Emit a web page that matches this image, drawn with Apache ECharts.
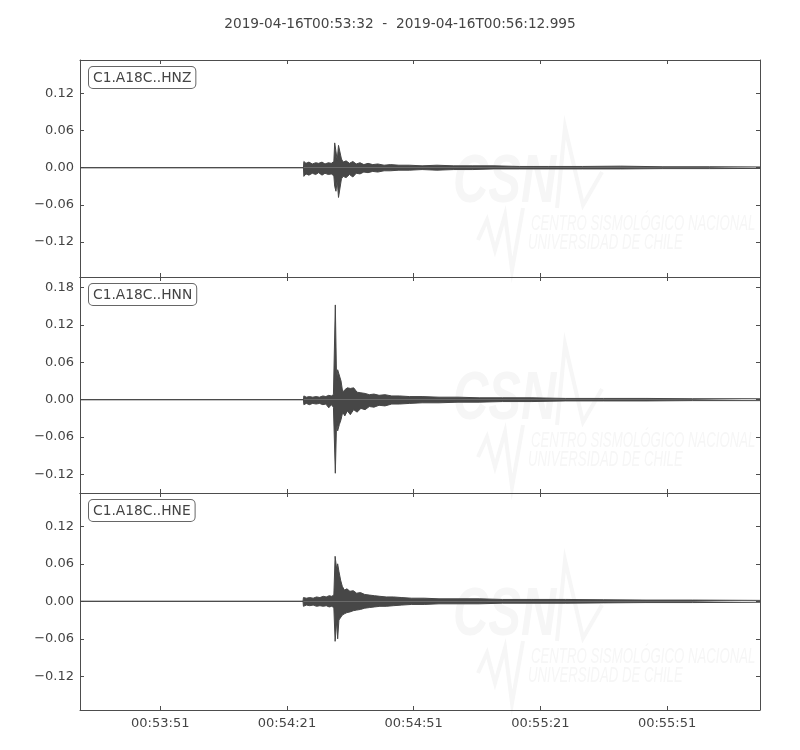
<!DOCTYPE html>
<html>
<head>
<meta charset="utf-8">
<script src="https://cdn.jsdelivr.net/npm/echarts@6/dist/echarts.min.js"></script>
<style>
  html, body { margin: 0; padding: 0; background: #fff; }
  #chart { width: 800px; height: 750px; }
</style>
</head>
<body>
<div id="chart"></div>
<script>
// seconds after 00:53:32, trace ends 00:56:12.995
var startSec = 3212;
var span = 160.995;
var titleText = '2019-04-16T00:53:32  -  2019-04-16T00:56:12.995';
var channels = ['C1.A18C..HNZ', 'C1.A18C..HNN', 'C1.A18C..HNE'];

var xTicks = [19, 49, 79, 109, 139];
var yTicksZ = [-0.12, -0.06, 0, 0.06, 0.12];
var yTicksN = [-0.12, -0.06, 0, 0.06, 0.12, 0.18];
var yTicksE = [-0.12, -0.06, 0, 0.06, 0.12];
var yRangeZ = [-0.1763, 0.1737];
var yRangeN = [-0.1497, 0.1968];
var yRangeE = [-0.1739, 0.1733];

// envelope: time, upper, lower
var hnzT = [0, 52.9, 53.0, 53.5, 54.2, 55.0, 55.8, 56.5, 57.3, 58.0, 58.8, 59.5, 60.1, 60.3, 60.6, 60.9, 61.2, 61.5, 61.9, 62.3, 63.0, 63.8, 64.6, 65.4, 66.3, 67.2, 68.2, 69.3, 70.5, 72.0, 73.5, 75.5, 78.0, 81.0, 84.5, 88.5, 93.0, 98.0, 104, 111, 119, 128, 138, 149, 161];
var hnzHi = [0, 0, 0.010, 0.007, 0.009, 0.006, 0.008, 0.007, 0.009, 0.006, 0.008, 0.007, 0.010, 0.040, 0.039, 0.012, 0.036, 0.034, 0.014, 0.009, 0.011, 0.007, 0.010, 0.006, 0.008, 0.005, 0.007, 0.005, 0.006, 0.004, 0.005, 0.004, 0.004, 0.003, 0.004, 0.003, 0.003, 0.003, 0.002, 0.002, 0.002, 0.0025, 0.0015, 0.0015, 0.0012];
var hnzLo = [0, 0, -0.014, -0.010, -0.012, -0.009, -0.011, -0.008, -0.012, -0.009, -0.011, -0.010, -0.013, -0.030, -0.038, -0.020, -0.048, -0.046, -0.018, -0.014, -0.016, -0.011, -0.015, -0.009, -0.010, -0.007, -0.008, -0.006, -0.007, -0.005, -0.005, -0.004, -0.004, -0.003, -0.004, -0.003, -0.003, -0.002, -0.002, -0.002, -0.002, -0.002, -0.0015, -0.0015, -0.0012];

var hnnT = [0, 52.9, 53.0, 53.6, 54.3, 55.1, 55.9, 56.7, 57.5, 58.2, 58.9, 59.5, 60.0, 60.3, 60.45, 60.6, 60.75, 61.0, 61.4, 61.8, 62.2, 62.7, 63.3, 64.0, 64.8, 65.6, 66.5, 67.5, 68.5, 69.6, 70.8, 72.2, 73.8, 75.6, 78.0, 81.0, 85.0, 89.5, 94.5, 100, 107, 115, 124, 134, 145, 161];
var hnnHi = [0, 0, 0.006, 0.004, 0.005, 0.004, 0.005, 0.004, 0.006, 0.005, 0.007, 0.006, 0.008, 0.010, 0.152, 0.152, 0.030, 0.048, 0.046, 0.030, 0.012, 0.016, 0.019, 0.018, 0.019, 0.012, 0.011, 0.010, 0.008, 0.009, 0.007, 0.008, 0.006, 0.006, 0.005, 0.005, 0.004, 0.004, 0.003, 0.003, 0.003, 0.002, 0.002, 0.002, 0.0015, 0.0015];
var hnnLo = [0, 0, -0.008, -0.006, -0.008, -0.006, -0.007, -0.006, -0.008, -0.007, -0.013, -0.008, -0.012, -0.014, -0.118, -0.118, -0.035, -0.050, -0.040, -0.032, -0.020, -0.026, -0.018, -0.024, -0.016, -0.020, -0.014, -0.016, -0.011, -0.012, -0.009, -0.010, -0.007, -0.007, -0.006, -0.005, -0.005, -0.004, -0.004, -0.003, -0.003, -0.002, -0.002, -0.002, -0.0015, -0.0015];

var hneT = [0, 52.8, 52.9, 53.6, 54.4, 55.2, 56.0, 56.8, 57.6, 58.3, 59.0, 59.6, 60.1, 60.4, 60.6, 60.8, 61.0, 61.3, 61.7, 62.1, 62.6, 63.2, 63.9, 64.7, 65.5, 66.4, 67.4, 68.5, 69.7, 71.0, 72.5, 74.2, 76.2, 78.5, 81.5, 85.0, 89.5, 94.5, 100, 107, 115, 124, 134, 145, 161];
var hneHi = [0, 0, 0.006, 0.005, 0.006, 0.005, 0.007, 0.006, 0.008, 0.007, 0.009, 0.008, 0.010, 0.072, 0.070, 0.050, 0.060, 0.048, 0.034, 0.024, 0.018, 0.020, 0.016, 0.017, 0.013, 0.014, 0.011, 0.010, 0.009, 0.008, 0.007, 0.007, 0.006, 0.005, 0.005, 0.004, 0.004, 0.004, 0.003, 0.003, 0.003, 0.0025, 0.002, 0.002, 0.0015];
var hneLo = [0, 0, -0.008, -0.006, -0.007, -0.006, -0.008, -0.007, -0.008, -0.007, -0.009, -0.008, -0.010, -0.064, -0.062, -0.030, -0.060, -0.030, -0.028, -0.022, -0.020, -0.018, -0.017, -0.015, -0.014, -0.013, -0.011, -0.010, -0.009, -0.008, -0.008, -0.007, -0.006, -0.005, -0.005, -0.004, -0.004, -0.004, -0.003, -0.003, -0.003, -0.0025, -0.002, -0.002, -0.0015];

var tops = [60, 277, 493];
var heights = [217, 216, 217];
var frameColor = '#4d4d4d';
var textColor = '#444';
var traceColor = '#474747';
var font = 'DejaVu Sans';

function pad(n) {
  return (n < 10 ? '0' : '') + n;
}

function timeLabel(v) {
  var s = Math.round(startSec + v);
  return pad(Math.floor(s / 3600)) + ':' + pad(Math.floor(s / 60) % 60) + ':' + pad(s % 60);
}

function numLabel(v) {
  return v.toFixed(2).replace('-', '\u2212');
}

function pairs(t, v) {
  return t.map(function(x, i) { return [x, v[i]]; });
}

function bandSeries(idx, t, hi, lo) {
  var base = {
    type: 'line',
    xAxisIndex: idx * 2,
    yAxisIndex: idx * 2,
    showSymbol: false,
    symbol: 'none',
    silent: true,
    lineStyle: { color: traceColor, width: 1 },
    areaStyle: { color: traceColor, opacity: 1 },
    z: 3
  };
  return [
    Object.assign({}, base, { data: pairs(t, hi) }),
    Object.assign({}, base, { data: pairs(t, lo) })
  ];
}

var grids = [], xAxes = [], yAxes = [];
var yTickSets = [yTicksZ, yTicksN, yTicksE];
var yRanges = [yRangeZ, yRangeN, yRangeE];

tops.forEach(function(top, i) {
  grids.push({ left: 80, width: 680, top: top, height: heights[i] });

  ['bottom', 'top'].forEach(function(pos) {
    xAxes.push({
      type: 'value', gridIndex: i, position: pos,
      min: 0, max: span,
      axisLine: { show: true, onZero: false, lineStyle: { color: frameColor, width: 1 } },
      axisTick: { show: true, inside: true, length: 4, customValues: xTicks, lineStyle: { color: frameColor } },
      axisLabel: {
        show: pos === 'bottom' && i === 2,
        customValues: xTicks, formatter: timeLabel,
        fontFamily: font, fontSize: 13, color: textColor, margin: 7
      },
      splitLine: { show: false }
    });
  });

  ['left', 'right'].forEach(function(pos) {
    yAxes.push({
      type: 'value', gridIndex: i, position: pos,
      min: yRanges[i][0], max: yRanges[i][1],
      axisLine: { show: true, onZero: false, lineStyle: { color: frameColor, width: 1 } },
      axisTick: { show: true, inside: true, length: 4, customValues: yTickSets[i], lineStyle: { color: frameColor } },
      axisLabel: {
        show: pos === 'left',
        customValues: yTickSets[i], formatter: numLabel,
        fontFamily: font, fontSize: 13, color: textColor, margin: 6
      },
      splitLine: { show: false }
    });
  });
});

var series = []
  .concat(bandSeries(0, hnzT, hnzHi, hnzLo))
  .concat(bandSeries(1, hnnT, hnnHi, hnnLo))
  .concat(bandSeries(2, hneT, hneHi, hneLo));

// faint CSN watermark + channel boxes
var graphics = [];
var wm = '#f6f6f6';
tops.forEach(function(top, i) {
  graphics.push({
    type: 'group', x: 0, y: top, z: 0, silent: true,
    children: [
      { type: 'text', x: 453, y: 123, scaleX: 0.72,
        style: { text: 'CSN', font: 'italic bold 68px "Liberation Sans"', fill: wm, verticalAlign: 'middle' } },
      { type: 'polyline', shape: { points: [[557, 148], [565, 67], [583, 145], [602, 112]] },
        style: { stroke: wm, lineWidth: 4, fill: null } },
      { type: 'polyline', shape: { points: [[478, 180], [487, 160], [495, 190], [505, 155], [512, 210], [523, 148]] },
        style: { stroke: wm, lineWidth: 4, fill: null } },
      { type: 'text', x: 531, y: 164, scaleX: 0.6,
        style: { text: 'CENTRO SISMOLÓGICO NACIONAL', font: 'italic 22px "Liberation Sans"', fill: wm, verticalAlign: 'middle' } },
      { type: 'text', x: 528, y: 183, scaleX: 0.6,
        style: { text: 'UNIVERSIDAD DE CHILE', font: 'italic 22px "Liberation Sans"', fill: wm, verticalAlign: 'middle' } }
    ]
  });
  graphics.push({
    type: 'text', x: 89, y: top + 7, z: 10,
    style: {
      text: channels[i], font: '13.8px "DejaVu Sans"', fill: textColor,
      backgroundColor: '#fff', borderColor: '#666', borderWidth: 1, borderRadius: 4,
      padding: [4, 4, 3, 4]
    }
  });
});

var chart = echarts.init(document.getElementById('chart'));
chart.setOption({
  animation: false,
  backgroundColor: '#fff',
  title: {
    text: titleText, left: 'center', top: 12,
    textStyle: { fontFamily: font, fontSize: 13.7, fontWeight: 'normal', color: textColor }
  },
  grid: grids,
  xAxis: xAxes,
  yAxis: yAxes,
  graphic: graphics,
  series: series
});
</script>
</body>
</html>
